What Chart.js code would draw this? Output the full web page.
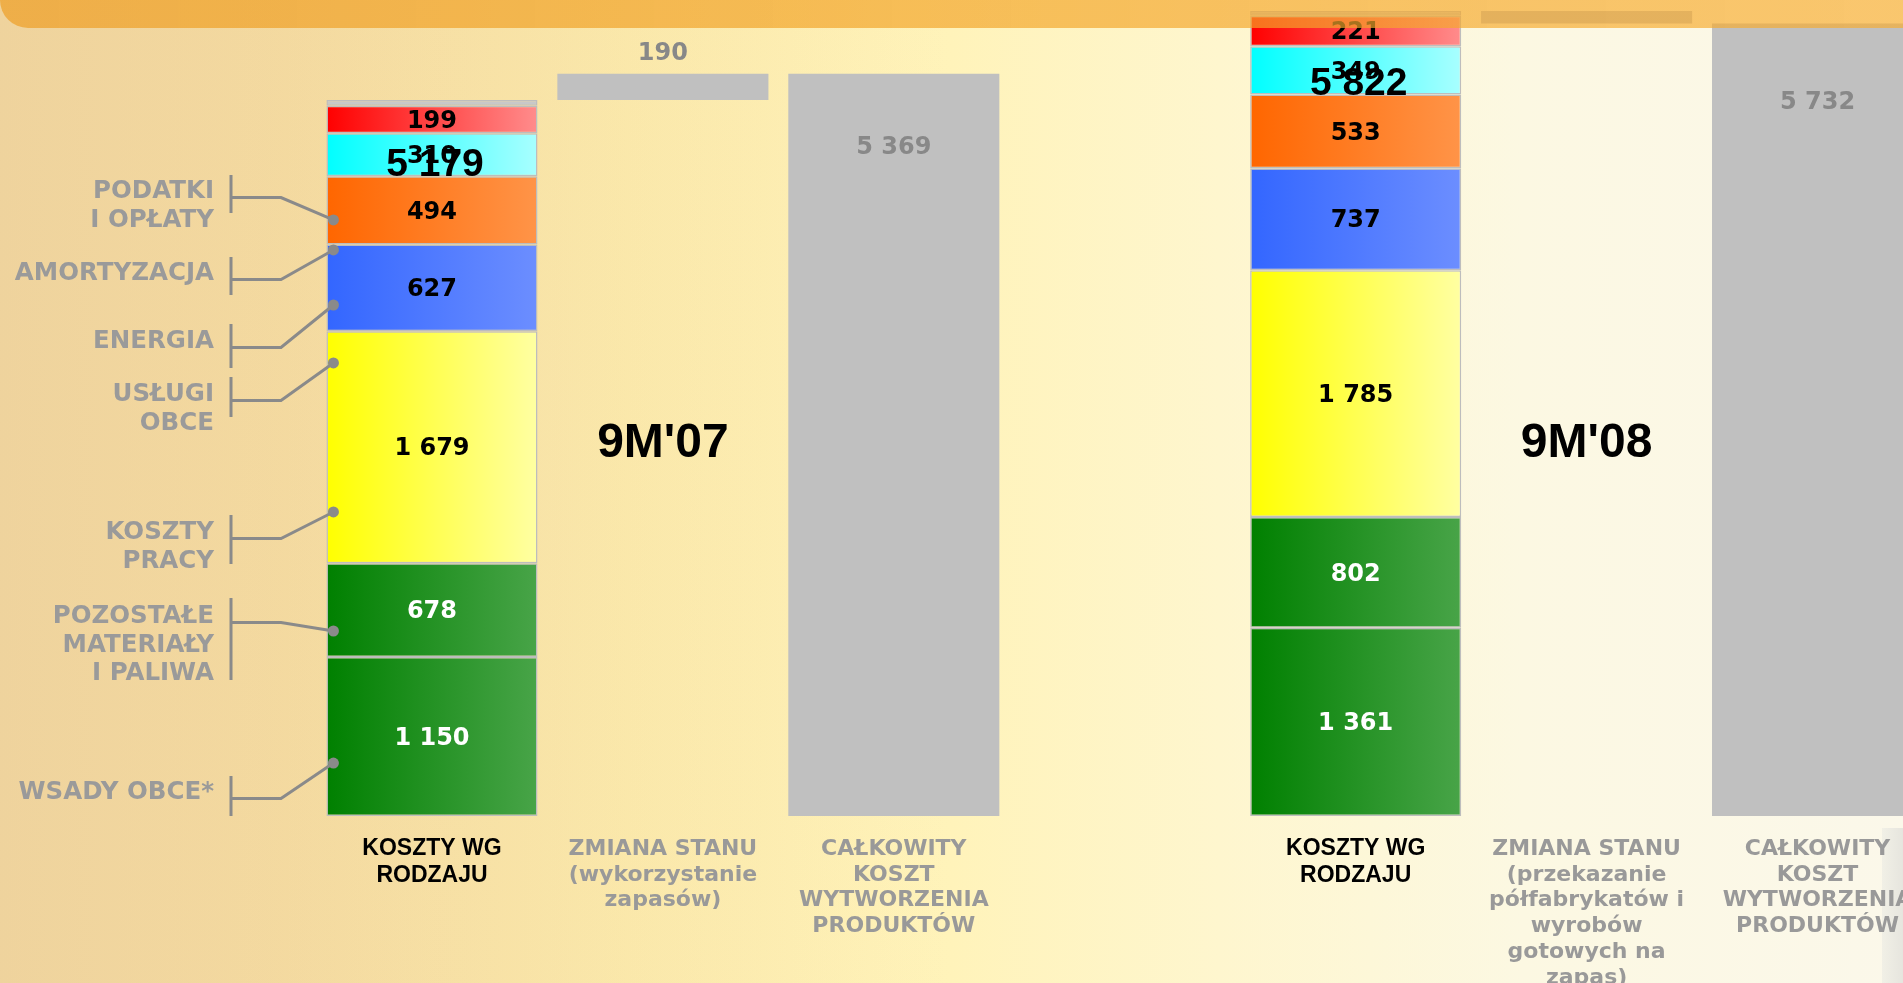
<!DOCTYPE html>
<html lang="pl">
<head>
<meta charset="utf-8">
<title>Koszty wg rodzaju 9M'07 / 9M'08</title>
<script src="https://cdn.jsdelivr.net/npm/chart.js@4.4.1/dist/chart.umd.min.js"></script>
<style>
    html, body { margin: 0; padding: 0; width: 1903px; height: 983px; overflow: hidden; }
    body {
        position: relative;
        background: linear-gradient(to right, #F1D8A6 0%, #F6DEA6 15%, #FCEBAE 33%, #FFF3BA 50%, #FEF6CE 64%, #FCF8E2 80%, #FBF8EA 100%);
    }
    .shade {
        position: absolute; left: 0; top: 0; width: 1903px; height: 983px;
        background: linear-gradient(to right, rgba(232, 196, 130, 0.25), rgba(232, 196, 130, 0) 50%);
    }
    .edge {
        position: absolute; left: 1882px; top: 828px; width: 21px; height: 155px;
        background: linear-gradient(to right, #F1F0E6, #E6E5DE);
    }
    .chart-box { position: absolute; left: 0; top: 0; width: 1940px; height: 983px; }
    .banner {
        position: absolute; left: 0; top: 0; width: 1903px; height: 28px; z-index: 2;
        border-bottom-left-radius: 28px; pointer-events: none;
        background: linear-gradient(to right, rgba(238, 160, 40, 0.72), rgba(248, 172, 45, 0.66));
    }
</style>
</head>
<body>
<div class="shade"></div>
<div class="edge"></div>
<div class="chart-box"><canvas id="chart"></canvas></div>
<div class="banner"></div>
<script>
// kategorie osi x (kolumna 3 to przerwa miedzy okresami)
const categories = [
    ['KOSZTY WG', 'RODZAJU'],
    ['ZMIANA STANU', '(wykorzystanie', 'zapasów)'],
    ['CAŁKOWITY', 'KOSZT', 'WYTWORZENIA', 'PRODUKTÓW'],
    [],
    ['KOSZTY WG', 'RODZAJU'],
    ['ZMIANA STANU', '(przekazanie', 'półfabrykatów i', 'wyrobów', 'gotowych na', 'zapas)'],
    ['CAŁKOWITY', 'KOSZT', 'WYTWORZENIA', 'PRODUKTÓW']
];
const periods = ["9M'07", "9M'08"];

// wartosci w mln zl: [9M'07, 9M'08]
const wsadyObce = [1150, 1361];
const pozostaleMaterialy = [678, 802];
const kosztyPracy = [1679, 1785];
const uslugiObce = [627, 737];
const energia = [494, 533];
const amortyzacja = [310, 349];
const podatkiIOplaty = [199, 221];
const pozostaleKoszty = [42, 34];
const kosztyRodzajowe = [5179, 5822];
const zmianaStanu = [190, -90];
const kosztWytworzenia = [5369, 5732];

// gdzie linie odnosnikow dotykaja slupka (w jednostkach osi y)
const pointerValues = [383, 1338, 2199, 3277, 3696, 4094, 4311];

const segments = [
    { name: ['WSADY OBCE*'], data: wsadyObce, from: '#008000', to: '#48A448', text: '#FFFFFF' },
    { name: ['POZOSTAŁE', 'MATERIAŁY', 'I PALIWA'], data: pozostaleMaterialy, from: '#008000', to: '#48A448', text: '#FFFFFF' },
    { name: ['KOSZTY', 'PRACY'], data: kosztyPracy, from: '#FFFF00', to: '#FFFFA2', text: '#000000' },
    { name: ['USŁUGI', 'OBCE'], data: uslugiObce, from: '#3366FF', to: '#6C8EFF', text: '#000000' },
    { name: ['ENERGIA'], data: energia, from: '#FF6600', to: '#FF9448', text: '#000000' },
    { name: ['AMORTYZACJA'], data: amortyzacja, from: '#00FFFF', to: '#A8FFFF', text: '#000000' },
    { name: ['PODATKI', 'I OPŁATY'], data: podatkiIOplaty, from: '#FF0000', to: '#FF8C8C', text: '#000000' },
    { name: [], data: pozostaleKoszty, from: '#C8C8C8', to: '#C8C8C8', text: null }
];

// uklad podpisow po lewej (piksele): srodek pierwszej linii i zasieg klamry
const sideLayout = [
    { y: 790, bracket: [776, 816] },
    { y: 614, bracket: [598, 680] },
    { y: 530, bracket: [515, 564] },
    { y: 392, bracket: [377, 417] },
    { y: 339, bracket: [324, 368] },
    { y: 271, bracket: [257, 295] },
    { y: 189, bracket: [175, 213] }
];

const fmt = v => (v < 0 ? '-' : '') + String(Math.round(Math.abs(v))).replace(/\B(?=(\d{3})+(?!\d))/g, ' ');

function perCategory(values, offset) {
    const arr = Array(categories.length).fill(null);
    values.forEach((v, p) => { arr[p * 4 + offset] = v; });
    return arr;
}

function gradientFor(seg) {
    return function(c) {
        const chart = c.chart;
        if (!chart.chartArea || c.raw == null) return seg.from;
        const xs = chart.scales.x;
        const cx = xs.getPixelForValue(c.dataIndex);
        const half = (xs.getPixelForValue(1) - xs.getPixelForValue(0)) * 0.914 / 2;
        const g = chart.ctx.createLinearGradient(cx - half, 0, cx + half, 0);
        g.addColorStop(0, seg.from);
        g.addColorStop(1, seg.to);
        return g;
    };
}

const labelPlugin = {
    id: 'slideLabels',
    afterDatasetsDraw(chart) {
        const ctx = chart.ctx;
        const xs = chart.scales.x, ys = chart.scales.y;
        ctx.save();
        ctx.textAlign = 'center';
        ctx.textBaseline = 'middle';

        // wartosci w segmentach
        ctx.font = 'bold 24px "DejaVu Sans"';
        segments.forEach((seg, si) => {
            if (!seg.text) return;
            const meta = chart.getDatasetMeta(si);
            chart.data.datasets[si].data.forEach((v, i) => {
                if (v == null) return;
                const bar = meta.data[i];
                ctx.fillStyle = seg.text;
                ctx.fillText(fmt(v), bar.x, (bar.y + bar.base) / 2 + 2);
            });
        });

        // zmiana stanu i koszt wytworzenia
        const zIdx = segments.length, tIdx = segments.length + 1;
        ctx.fillStyle = '#888888';
        periods.forEach((p, pi) => {
            const zb = chart.getDatasetMeta(zIdx).data[pi * 4 + 1];
            ctx.fillText(fmt(zmianaStanu[pi]), zb.x, Math.min(zb.y, zb.base) - 20);
            const tb = chart.getDatasetMeta(tIdx).data[pi * 4 + 2];
            ctx.fillText(fmt(kosztWytworzenia[pi]), tb.x, ys.getPixelForValue(kosztWytworzenia[pi] * 0.9));
        });

        // sumy i nazwy okresow
        ctx.fillStyle = '#000000';
        periods.forEach((p, pi) => {
            ctx.font = 'bold 39px "Liberation Sans"';
            ctx.fillText(fmt(kosztyRodzajowe[pi]), xs.getPixelForValue(pi * 4) + 3, ys.getPixelForValue(kosztyRodzajowe[pi] * 0.91) + 1);
            ctx.font = 'bold 48px "Liberation Sans"';
            ctx.fillText(p, xs.getPixelForValue(pi * 4 + 1), 444);
        });

        // podpisy kategorii pod slupkami
        categories.forEach((lines, i) => {
            const cx = xs.getPixelForValue(i);
            const main = i % 4 === 0;
            ctx.font = main ? 'bold 23px "Liberation Sans"' : 'bold 22px "DejaVu Sans"';
            ctx.fillStyle = main ? '#000000' : '#999999';
            const lh = main ? 27 : 25.8;
            lines.forEach((t, k) => ctx.fillText(t, cx, 849 + k * lh));
        });

        // odnosniki po lewej stronie
        const first = chart.getDatasetMeta(0).data[0];
        const dotX = first.x - first.width / 2 + 7;
        sideLayout.forEach((L, i) => {
            const seg = segments[i];
            ctx.textAlign = 'right';
            ctx.font = 'bold 24.5px "DejaVu Sans"';
            ctx.fillStyle = '#9A9A9A';
            seg.name.forEach((t, k) => ctx.fillText(t, 214, L.y + 2.5 + k * 28.7));

            const dotY = ys.getPixelForValue(pointerValues[i]);
            const hy = L.y + 8.5;
            ctx.strokeStyle = '#8A8A8A';
            ctx.lineWidth = 3;
            ctx.beginPath();
            ctx.moveTo(231, L.bracket[0]);
            ctx.lineTo(231, L.bracket[1]);
            ctx.moveTo(231, hy);
            ctx.lineTo(281, hy);
            ctx.lineTo(dotX, dotY);
            ctx.stroke();
            ctx.fillStyle = '#8A8A8A';
            ctx.beginPath();
            ctx.arc(dotX, dotY, 5.5, 0, Math.PI * 2);
            ctx.fill();
        });
        ctx.restore();
    }
};

document.addEventListener('DOMContentLoaded', function() {
    const chartCanvas = document.querySelector('#chart');
    if (!chartCanvas) return;

    const datasets = segments.map(seg => ({
        label: seg.name.join(' ') || 'pozostałe',
        data: perCategory(seg.data, 0),
        backgroundColor: gradientFor(seg),
        borderColor: '#BDBDBD',
        borderWidth: 1.5,
        borderSkipped: false
    }));
    datasets.push({
        label: 'ZMIANA STANU',
        data: perCategory(zmianaStanu.map((d, p) => [kosztyRodzajowe[p], kosztyRodzajowe[p] + d]), 1),
        backgroundColor: '#C0C0C0',
        borderWidth: 0
    });
    datasets.push({
        label: 'CAŁKOWITY KOSZT WYTWORZENIA PRODUKTÓW',
        data: perCategory(kosztWytworzenia, 2),
        backgroundColor: '#C0C0C0',
        borderWidth: 0
    });

    try {
        new Chart(chartCanvas.getContext('2d'), {
            type: 'bar',
            data: {
                labels: categories.map(l => l.join(' ')),
                datasets: datasets
            },
            options: {
                responsive: true,
                maintainAspectRatio: false,
                animation: false,
                barPercentage: 0.914,
                categoryPercentage: 1.0,
                layout: { padding: { left: 316.5, right: 7, top: 0, bottom: 167 } },
                plugins: {
                    legend: { display: false },
                    tooltip: { enabled: false }
                },
                scales: {
                    x: { stacked: true, display: false },
                    y: { stacked: true, display: false, min: 0, max: 5902 }
                }
            },
            plugins: [labelPlugin]
        });
    } catch (error) {
        console.error('Błąd wykresu:', error);
    }
});
</script>
</body>
</html>
